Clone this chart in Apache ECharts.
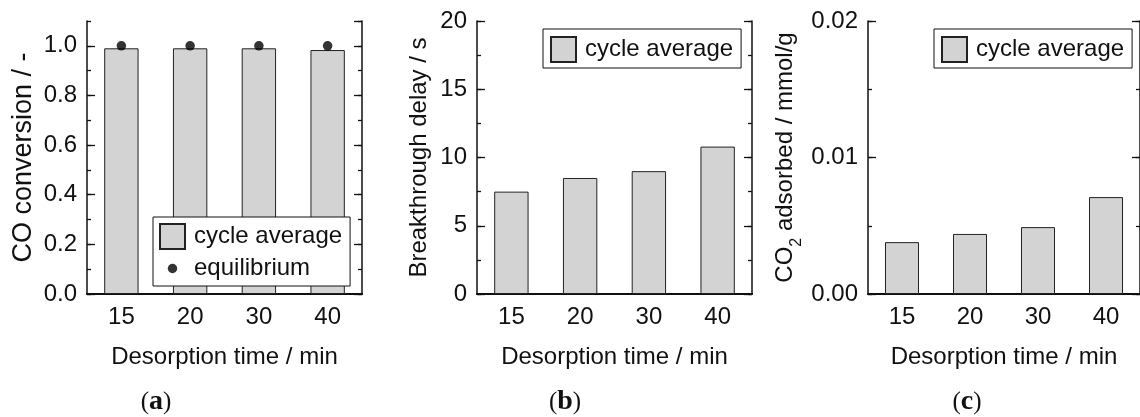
<!DOCTYPE html>
<html>
<head>
<meta charset="utf-8">
<script src="https://cdn.jsdelivr.net/npm/echarts@6/dist/echarts.min.js"></script>
<style>
  html, body { margin: 0; padding: 0; background: #fff; }
  #chart { width: 1140px; height: 417px; }
</style>
</head>
<body>
<div id="chart"></div>
<script>
// Desorption times (categories) and the three measured quantities
const categories = ['15', '20', '30', '40'];
const coConversion = [0.99, 0.99, 0.99, 0.983];
const coEquilibrium = [1.0, 1.0, 1.0, 1.0];
const breakthroughDelay = [7.5, 8.5, 9.0, 10.8];
const co2Adsorbed = [0.0038, 0.0044, 0.0049, 0.0071];

const xTitle = 'Desorption time / min';
const yTitles = ['CO conversion / -', 'Breakthrough delay / s', '{m|CO}{sub|2}{m| adsorbed / mmol/g}'];
const panelTags = ['a', 'b', 'c'];
const seriesNames = ['cycle average', 'equilibrium'];

// y scales: min, max, major step, minor step, label decimals
const yScales = [
  [0, 1.1, 0.2, 0.1, 1],
  [0, 20, 5, 2.5, 0],
  [0, 0.02, 0.01, 0.005, 2]
];

const FONT = 'Liberation Sans, Arial, sans-serif';
const SERIF = 'Liberation Serif, Times New Roman, serif';
const INK = '#111';
const BAR_FILL = '#d3d3d3';

const gridBoxes = [
  { left: 87, top: 21, width: 275, height: 273 },
  { left: 477, top: 21, width: 275, height: 273 },
  { left: 868, top: 21, width: 275, height: 273 }
];
const yNameGaps = [50, 46, 63];
const yNameSizes = [27, 24, 24];

const grid = [], xAxis = [], yAxis = [];
gridBoxes.forEach((g, i) => {
  grid.push(Object.assign({ containLabel: false }, g));
  const [mn, mx, major, minor, dec] = yScales[i];
  // bottom category axis with labels and title
  xAxis.push({
    type: 'category', gridIndex: i, position: 'bottom', data: categories,
    axisLine: { show: true, lineStyle: { color: INK, width: 2 } },
    axisTick: { show: false },
    axisLabel: { color: INK, fontFamily: FONT, fontSize: 24, margin: 11 },
    name: xTitle, nameLocation: 'middle', nameGap: 51,
    nameTextStyle: { color: INK, fontFamily: FONT, fontSize: 24 },
    splitLine: { show: false }
  });
  // top frame edge
  xAxis.push({
    type: 'category', gridIndex: i, position: 'top', data: categories,
    axisLine: { show: true, lineStyle: { color: INK, width: 1.5 } },
    axisTick: { show: false }, axisLabel: { show: false }, splitLine: { show: false }
  });
  const nameStyle = { color: INK, fontFamily: FONT, fontSize: yNameSizes[i] };
  if (i === 2) {
    nameStyle.rich = {
      m: { fontFamily: FONT, fontSize: 24, lineHeight: 24, color: INK, verticalAlign: 'top' },
      sub: { fontFamily: FONT, fontSize: 16, lineHeight: 32, color: INK, verticalAlign: 'bottom' }
    };
  }
  // left axis: major ticks + labels + title
  yAxis.push({
    type: 'value', gridIndex: i, position: 'left', min: mn, max: mx, interval: major,
    axisLine: { show: true, lineStyle: { color: INK, width: 1.5 } },
    axisTick: { show: true, inside: true, length: 8, lineStyle: { color: INK, width: 1.3 } },
    axisLabel: {
      color: INK, fontFamily: FONT, fontSize: 24, margin: 10,
      showMaxLabel: i !== 0,
      formatter: v => Number(v).toFixed(dec)
    },
    splitLine: { show: false },
    name: yTitles[i], nameLocation: 'middle', nameGap: yNameGaps[i], nameTextStyle: nameStyle
  });
  // left axis: minor ticks
  yAxis.push({
    type: 'value', gridIndex: i, position: 'left', min: mn, max: mx, interval: minor,
    axisLine: { show: false },
    axisTick: { show: true, inside: true, length: 4, lineStyle: { color: INK, width: 1.3 } },
    axisLabel: { show: false }, splitLine: { show: false }
  });
  // right frame edge: major ticks
  yAxis.push({
    type: 'value', gridIndex: i, position: 'right', min: mn, max: mx, interval: major,
    axisLine: { show: true, lineStyle: { color: INK, width: 1.5 } },
    axisTick: { show: true, inside: true, length: 8, lineStyle: { color: INK, width: 1.3 } },
    axisLabel: { show: false }, splitLine: { show: false }
  });
  // right frame edge: minor ticks
  yAxis.push({
    type: 'value', gridIndex: i, position: 'right', min: mn, max: mx, interval: minor,
    axisLine: { show: false },
    axisTick: { show: true, inside: true, length: 4, lineStyle: { color: INK, width: 1.3 } },
    axisLabel: { show: false }, splitLine: { show: false }
  });
});

const barStyle = { color: BAR_FILL, borderColor: '#222', borderWidth: 1 };
const barValues = [coConversion, breakthroughDelay, co2Adsorbed];
const series = barValues.map((vals, i) => ({
  type: 'bar', name: seriesNames[0], xAxisIndex: 2 * i, yAxisIndex: 4 * i,
  data: vals, barWidth: '50%', itemStyle: barStyle, silent: true, z: 2
}));
series.push({
  type: 'scatter', name: seriesNames[1], xAxisIndex: 0, yAxisIndex: 0,
  data: coEquilibrium, symbol: 'circle', symbolSize: 9.5,
  itemStyle: { color: '#000' }, silent: true, z: 5
});

// small dot centred in a 25x25 legend cell
const dotIcon = 'path://M0,0M25,25M12.5,7.75A4.75,4.75,0,1,1,12.5,17.25A4.75,4.75,0,1,1,12.5,7.75Z';
const legendBase = {
  orient: 'vertical', itemWidth: 25, itemHeight: 25, selectedMode: false,
  backgroundColor: '#fff', borderColor: INK, borderWidth: 1,
  textStyle: { color: INK, fontFamily: FONT, fontSize: 24, padding: [0, 0, 0, 4] }
};
const legend = [
  Object.assign({}, legendBase, {
    left: 153, top: 217, padding: [6, 8, 5, 6], itemGap: 6,
    data: [{ name: seriesNames[0], icon: 'rect' }, { name: seriesNames[1], icon: dotIcon }]
  }),
  Object.assign({}, legendBase, {
    left: 543, top: 29, padding: [7, 8, 5, 7],
    data: [{ name: seriesNames[0], icon: 'rect' }]
  }),
  Object.assign({}, legendBase, {
    left: 934, top: 29, padding: [7, 8, 5, 7],
    data: [{ name: seriesNames[0], icon: 'rect' }]
  })
];

// sub-figure tags below each panel
const tagX = [156, 565, 967];
const graphic = panelTags.map((t, i) => ({
  type: 'text', x: tagX[i], y: 402, silent: true,
  style: {
    text: '({b|' + t + '})',
    fontFamily: SERIF, fontSize: 25, fill: INK,
    align: 'center', verticalAlign: 'middle',
    rich: { b: { fontFamily: SERIF, fontSize: 28, fontWeight: 'bold', color: INK } }
  }
}));

const chart = echarts.init(document.getElementById('chart'), null, { renderer: 'canvas' });
chart.setOption({
  animation: false,
  backgroundColor: '#fff',
  grid, xAxis, yAxis, series, legend, graphic
});
</script>
</body>
</html>
